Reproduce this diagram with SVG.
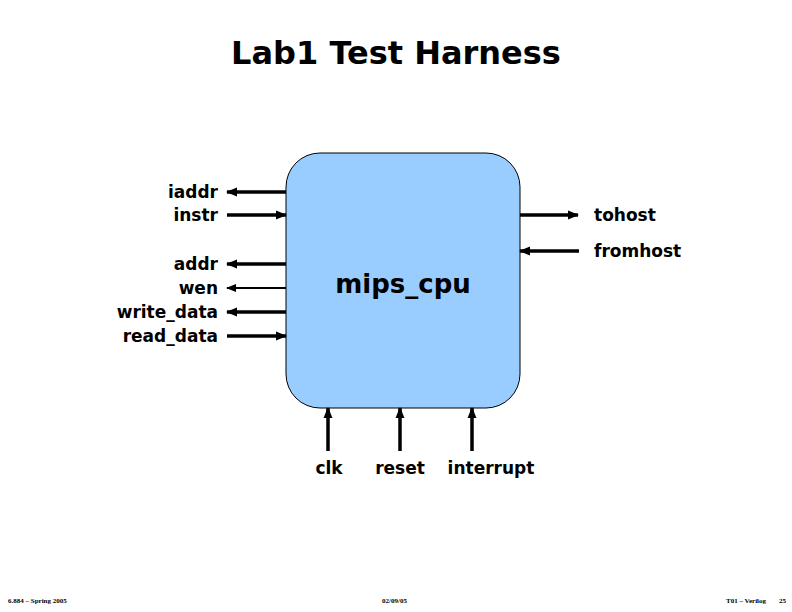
<svg xmlns="http://www.w3.org/2000/svg" width="792" height="612" viewBox="0 0 792 612">
<defs>
<style>
.t{font-family:"DejaVu Sans","Liberation Sans",sans-serif;font-weight:bold;fill:#000}
.lbl{font-size:17px}
.w{stroke:#000;stroke-width:3.5;fill:none}
.thin{stroke:#000;stroke-width:2;fill:none}
.ft{font-family:"Liberation Serif",serif;font-size:7px;font-weight:bold;fill:#000}
</style>
<marker id="ah" viewBox="0 0 10 10" refX="9" refY="5" markerWidth="3.2" markerHeight="3.2" orient="auto" markerUnits="strokeWidth">
<path d="M0,1 L10,5 L0,9 z" fill="#000"/>
</marker>
<marker id="ahs" viewBox="0 0 10 10" refX="9" refY="5" markerWidth="5" markerHeight="5" orient="auto" markerUnits="strokeWidth">
<path d="M0,1 L10,5 L0,9 z" fill="#000"/>
</marker>
</defs>
<rect width="792" height="612" fill="#fff"/>
<text class="t" x="396" y="64" font-size="32" text-anchor="middle">Lab1 Test Harness</text>
<g id="mips_cpu">
<rect x="286" y="153" width="234" height="255" rx="34" ry="34" fill="#99ccff" stroke="#000" stroke-width="1"/>
<text class="t" x="403" y="293" font-size="26" text-anchor="middle">mips_cpu</text>
</g>
<g id="connectors">
<line class="w" x1="286" y1="192" x2="227" y2="192" marker-end="url(#ah)"/>
<line class="w" x1="227" y1="215" x2="286" y2="215" marker-end="url(#ah)"/>
<line class="w" x1="286" y1="264" x2="227" y2="264" marker-end="url(#ah)"/>
<line class="thin" x1="286" y1="288" x2="227" y2="288" marker-end="url(#ahs)"/>
<line class="w" x1="286" y1="312" x2="227" y2="312" marker-end="url(#ah)"/>
<line class="w" x1="227" y1="336" x2="286" y2="336" marker-end="url(#ah)"/>
<line class="w" x1="520" y1="215" x2="578" y2="215" marker-end="url(#ah)"/>
<line class="w" x1="579" y1="251" x2="520" y2="251" marker-end="url(#ah)"/>
<line class="w" x1="328" y1="451" x2="328" y2="408" marker-end="url(#ah)"/>
<line class="w" x1="400" y1="451" x2="400" y2="408" marker-end="url(#ah)"/>
<line class="w" x1="472" y1="451" x2="472" y2="408" marker-end="url(#ah)"/>
</g>
<g id="labels" class="t lbl">
<text x="218" y="198" text-anchor="end">iaddr</text>
<text x="218" y="221" text-anchor="end">instr</text>
<text x="218" y="270" text-anchor="end">addr</text>
<text x="218" y="294" text-anchor="end">wen</text>
<text x="218" y="318" text-anchor="end">write_data</text>
<text x="218" y="342" text-anchor="end">read_data</text>
<text x="594" y="221">tohost</text>
<text x="594" y="257">fromhost</text>
<text x="329" y="474" text-anchor="middle">clk</text>
<text x="400" y="474" text-anchor="middle">reset</text>
<text x="491" y="474" text-anchor="middle">interrupt</text>
</g>
<g id="footer">
<text class="ft" x="8" y="603">6.884 – Spring 2005</text>
<text class="ft" x="382" y="603">02/09/05</text>
<text class="ft" x="726" y="603">T01 – Verilog</text>
<text class="ft" x="779" y="603">25</text>
</g>
</svg>
